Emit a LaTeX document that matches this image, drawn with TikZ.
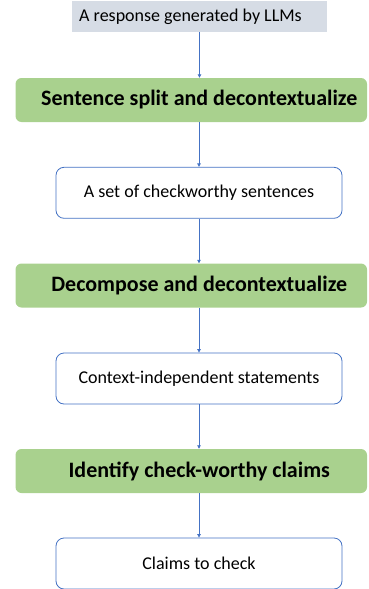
\documentclass[tikz,border=0pt]{standalone}
\usepackage{fontspec}
\setmainfont{Carlito}
\usetikzlibrary{arrows.meta}
\definecolor{stepgreen}{HTML}{A9D18E}
\definecolor{inputgray}{HTML}{D6DCE5}
\definecolor{flowblue}{HTML}{4472C4}
\tikzset{
  inputbox/.style={fill=inputgray, minimum width=255pt, minimum height=31pt,
    inner sep=0pt, font=\fontsize{18}{20}\selectfont},
  stepbox/.style={fill=stepgreen, rounded corners=6pt, minimum width=351.5pt,
    minimum height=44pt, inner sep=0pt, font=\fontsize{22}{24}\selectfont\bfseries},
  resultbox/.style={draw=flowblue, line width=0.8pt, fill=white, rounded corners=8pt,
    minimum width=286pt, minimum height=51pt, inner sep=0pt,
    font=\fontsize{18}{20}\selectfont},
  flow/.style={draw=flowblue, line width=0.8pt,
    -{Triangle[length=3.5pt,width=3.5pt]}}
}
\begin{document}
\begin{tikzpicture}[x=1pt,y=-1pt]
  \useasboundingbox (0,0) rectangle (368,589);
  % input
  \node[inputbox] (resp) at (199.5,16.5) {A response generated by LLMs\hspace*{18pt}};
  % processing steps and their outputs
  \node[stepbox] (split) at (191.25,100) {\hspace*{16pt}Sentence split and decontextualize};
  \node[resultbox] (sents) at (199,192.8) {A set of checkworthy sentences};
  \node[stepbox] (decomp) at (191.25,285.5) {\hspace*{16pt}Decompose and decontextualize};
  \node[resultbox] (stmts) at (199,378.5) {Context-independent statements};
  \node[stepbox] (ident) at (191.25,471) {\hspace*{16pt}Identify check-worthy claims};
  \node[resultbox] (claims) at (199,563.5) {Claims to check};
  % connectors
  \draw[flow] (resp.south) -- (resp.south |- split.north);
  \draw[flow] (split.south -| sents.north) -- (sents.north);
  \draw[flow] (sents.south) -- (sents.south |- decomp.north);
  \draw[flow] (decomp.south -| stmts.north) -- (stmts.north);
  \draw[flow] (stmts.south) -- (stmts.south |- ident.north);
  \draw[flow] (ident.south -| claims.north) -- (claims.north);
\end{tikzpicture}
\end{document}
